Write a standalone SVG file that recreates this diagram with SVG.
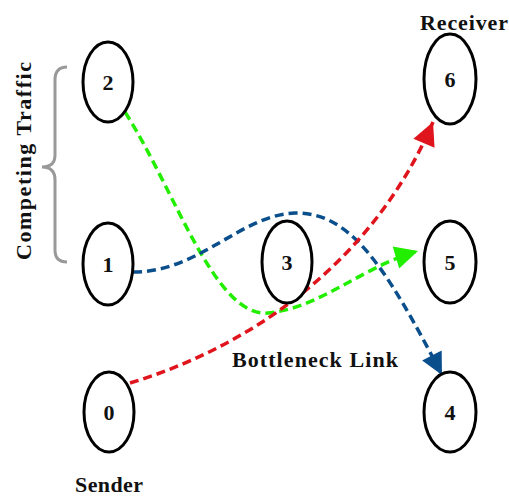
<svg xmlns="http://www.w3.org/2000/svg" width="509" height="497" viewBox="0 0 509 497">
  <style>
    .node ellipse { fill: #ffffff; stroke: #000000; stroke-width: 3; }
    .node text, .label { font-family: "Liberation Serif", "Times New Roman", serif; font-weight: bold; fill: #111111; }
    .node text { font-size: 22px; text-anchor: middle; dominant-baseline: central; }
    .label { font-size: 22px; }
    .flow { fill: none; stroke-width: 3.5; stroke-dasharray: 9 5; }
  </style>
  <defs>
    <marker id="arrow-red" viewBox="0 0 10 10" refX="10" refY="5" markerWidth="30" markerHeight="23" markerUnits="userSpaceOnUse" orient="auto">
      <path d="M0,0 L10,5 L0,10 z" fill="#e0141c"/>
    </marker>
    <marker id="arrow-green" viewBox="0 0 10 10" refX="10" refY="5" markerWidth="32" markerHeight="23" markerUnits="userSpaceOnUse" orient="auto">
      <path d="M0,0 L10,5 L0,10 z" fill="#22ee00"/>
    </marker>
    <marker id="arrow-blue" viewBox="0 0 10 10" refX="10" refY="5" markerWidth="30" markerHeight="22" markerUnits="userSpaceOnUse" orient="auto">
      <path d="M0,0 L10,5 L0,10 z" fill="#0a4f8c"/>
    </marker>
  </defs>

  <rect width="509" height="497" fill="#ffffff"/>

  <!-- traffic flows -->
  <g id="connectors">
    <path class="flow" stroke="#22ee00" d="M125,112 C175,190 215,318 268,313 C320,308 360,268 418,251" marker-end="url(#arrow-green)"/>
    <path class="flow" stroke="#0a4f8c" d="M133,272 C200,272 240,215 295,213 C350,212 385,265 442,375" marker-end="url(#arrow-blue)"/>
    <path class="flow" stroke="#e0141c" d="M130,383 C240,350 370,270 433,122" marker-end="url(#arrow-red)"/>
  </g>

  <!-- nodes -->
  <g id="node-0" class="node"><ellipse cx="109" cy="412" rx="25" ry="40"/><text x="109" y="412">0</text></g>
  <g id="node-1" class="node"><ellipse cx="108" cy="264" rx="25" ry="41"/><text x="108" y="264">1</text></g>
  <g id="node-2" class="node"><ellipse cx="108" cy="82" rx="25" ry="40"/><text x="108" y="82">2</text></g>
  <g id="node-3" class="node"><ellipse cx="287" cy="262" rx="25" ry="41"/><text x="287" y="262">3</text></g>
  <g id="node-4" class="node"><ellipse cx="450" cy="412" rx="26" ry="40"/><text x="450" y="412">4</text></g>
  <g id="node-5" class="node"><ellipse cx="450" cy="262" rx="26" ry="41"/><text x="450" y="262">5</text></g>
  <g id="node-6" class="node"><ellipse cx="450" cy="79" rx="26" ry="45"/><text x="450" y="79">6</text></g>

  <!-- brace grouping the competing flows -->
  <path d="M67,67 Q55,67 55,80 L55,155 Q55,167 42,167 Q55,167 55,180 L55,250 Q55,262 67,262" fill="none" stroke="#999999" stroke-width="3"/>

  <!-- labels -->
  <text class="label" x="420" y="30" textLength="88" lengthAdjust="spacing">Receiver</text>
  <text class="label" x="75" y="492" textLength="68" lengthAdjust="spacing">Sender</text>
  <text class="label" x="232" y="367" textLength="166" lengthAdjust="spacing">Bottleneck Link</text>
  <text class="label" x="0" y="0" text-anchor="middle" textLength="198" lengthAdjust="spacing" transform="translate(31,161) rotate(-90)">Competing Traffic</text>
</svg>
